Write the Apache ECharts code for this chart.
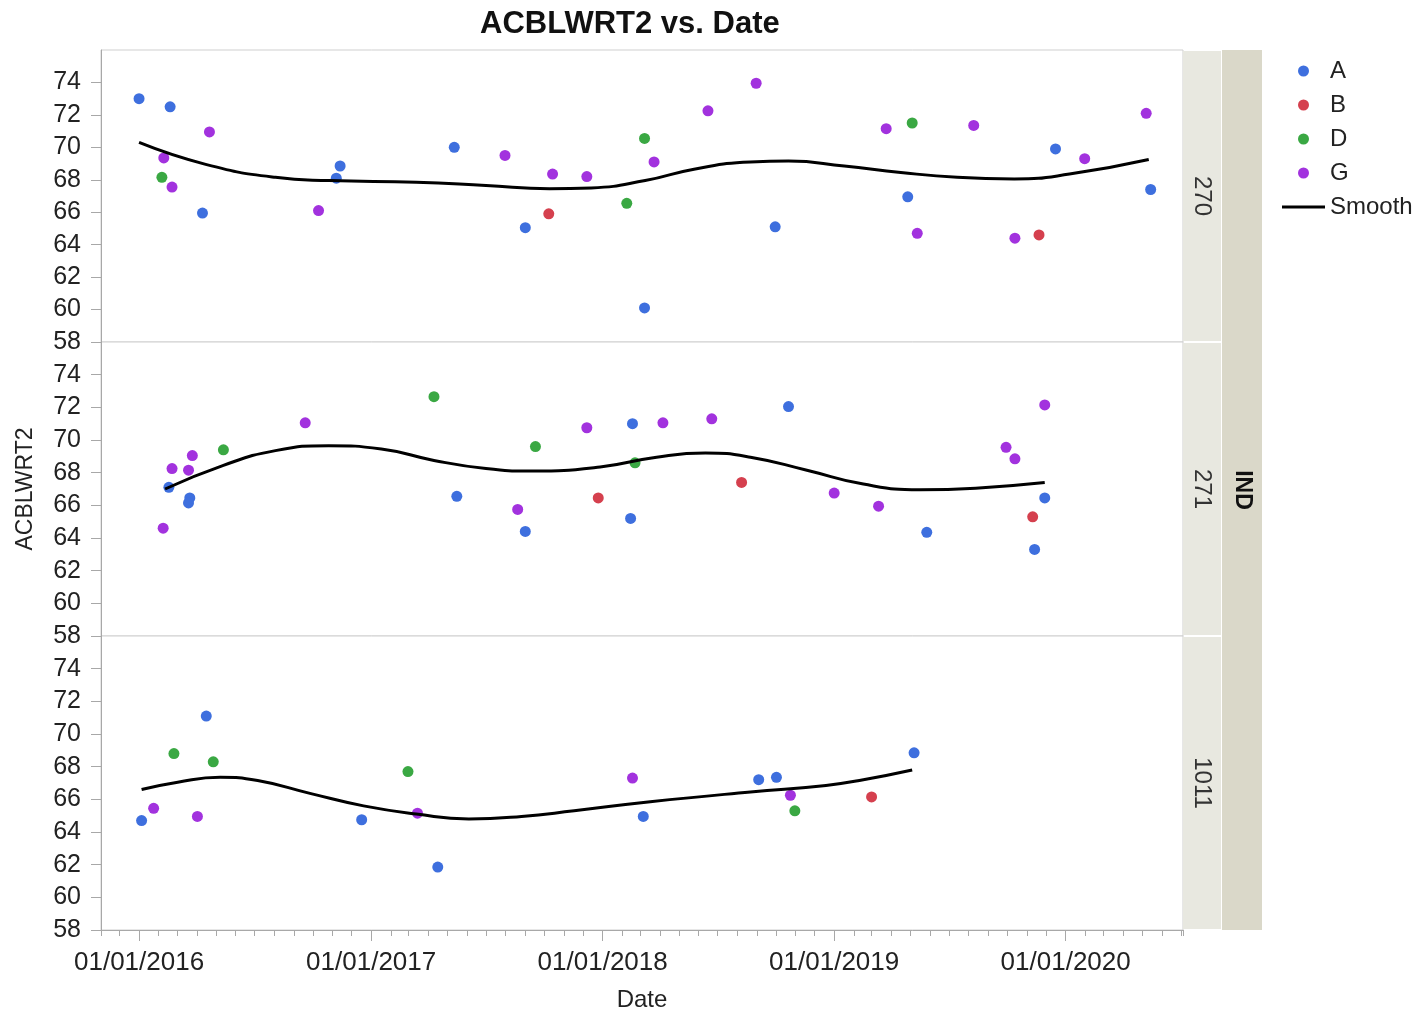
<!DOCTYPE html>
<html>
<head>
<meta charset="utf-8">
<title>ACBLWRT2 vs. Date</title>
<script src="https://cdn.jsdelivr.net/npm/echarts@6/dist/echarts.min.js"></script>
<style>
  html, body { margin: 0; padding: 0; background: #fff; }
  #chart { width: 1423px; height: 1012px; }
</style>
</head>
<body>
<div id="chart"></div>
<script>
// values, [date, ACBLWRT2]
const p270A = [["2016-01-01", 73.0], ["2016-02-19", 72.5], ["2016-04-10", 65.95], ["2016-11-07", 68.1], ["2016-11-13", 68.85],
  ["2017-05-12", 70.0], ["2017-09-01", 65.05], ["2018-03-08", 60.1], ["2018-09-30", 65.1], ["2019-04-27", 66.95],
  ["2019-12-16", 69.9], ["2020-05-14", 67.4]];
const p270B = [["2017-10-08", 65.9], ["2019-11-20", 64.6]];
const p270D = [["2016-02-06", 68.15], ["2018-02-08", 66.55], ["2018-03-08", 70.55], ["2019-05-04", 71.5]];
const p270G = [["2016-02-09", 69.35], ["2016-02-22", 67.55], ["2016-04-21", 70.95], ["2016-10-10", 66.1], ["2017-07-31", 69.5],
  ["2017-10-14", 68.35], ["2017-12-07", 68.2], ["2018-03-23", 69.1], ["2018-06-16", 72.25], ["2018-08-31", 73.95],
  ["2019-03-24", 71.15], ["2019-05-12", 64.7], ["2019-08-09", 71.35], ["2019-10-13", 64.4], ["2020-01-31", 69.3],
  ["2020-05-07", 72.1]];
const s270 = [["2016-01-01", 70.3], ["2016-04-15", 68.95], ["2016-08-03", 68.15], ["2016-10-26", 67.95], ["2017-03-13", 67.85],
  ["2017-07-01", 67.65], ["2017-10-09", 67.45], ["2017-12-14", 67.5], ["2018-03-09", 67.95], ["2018-05-25", 68.65],
  ["2018-08-22", 69.1], ["2018-10-21", 69.15], ["2019-01-17", 68.85], ["2019-04-16", 68.45], ["2019-07-14", 68.15],
  ["2019-10-12", 68.05], ["2020-01-07", 68.35], ["2020-05-11", 69.25]];

const p271A = [["2016-02-17", 67.1], ["2016-03-21", 66.45], ["2016-03-19", 66.15], ["2017-05-16", 66.55], ["2017-09-01", 64.4],
  ["2018-02-17", 71.0], ["2018-02-14", 65.2], ["2018-10-21", 72.05], ["2019-05-27", 64.35], ["2019-11-29", 66.45],
  ["2019-11-13", 63.3]];
const p271B = [["2017-12-25", 66.45], ["2018-08-08", 67.4], ["2019-11-10", 65.3]];
const p271D = [["2016-05-13", 69.4], ["2017-04-10", 72.65], ["2017-09-17", 69.6], ["2018-02-21", 68.6]];
const p271G = [["2016-02-08", 64.6], ["2016-02-22", 68.25], ["2016-03-25", 69.05], ["2016-03-19", 68.15], ["2016-09-19", 71.05],
  ["2017-08-20", 65.75], ["2017-12-07", 70.75], ["2018-04-06", 71.05], ["2018-06-22", 71.3], ["2019-01-01", 66.75],
  ["2019-03-12", 65.95], ["2019-09-29", 69.55], ["2019-10-13", 68.85], ["2019-11-29", 72.15]];
const s271 = [["2016-02-11", 67.0], ["2016-05-13", 68.45], ["2016-08-03", 69.35], ["2016-10-26", 69.65], ["2017-01-17", 69.45],
  ["2017-04-10", 68.75], ["2017-07-01", 68.25], ["2017-09-10", 68.1], ["2017-12-28", 68.35],
  ["2018-03-27", 68.95], ["2018-06-12", 69.2], ["2018-08-22", 68.95], ["2018-11-19", 68.15], ["2019-02-16", 67.3],
  ["2019-05-16", 66.95], ["2019-08-12", 67.05], ["2019-11-29", 67.4]];

const p1011A = [["2016-01-05", 64.7], ["2016-04-16", 71.1], ["2016-12-17", 64.75], ["2017-04-16", 61.85], ["2018-03-06", 64.95],
  ["2018-09-04", 67.2], ["2018-10-02", 67.35], ["2019-05-07", 68.85]];
const p1011B = [["2019-03-01", 66.15]];
const p1011D = [["2016-02-25", 68.8], ["2016-04-27", 68.3], ["2017-02-28", 67.7], ["2018-10-31", 65.3]];
const p1011G = [["2016-01-24", 65.45], ["2016-04-02", 64.95], ["2017-03-15", 65.15], ["2018-02-17", 67.3], ["2018-10-24", 66.25]];
const s1011 = [["2016-01-05", 66.6], ["2016-03-02", 67.05], ["2016-05-08", 67.35], ["2016-07-06", 67.15], ["2016-09-28", 66.35],
  ["2016-12-20", 65.6], ["2017-03-13", 65.1], ["2017-06-04", 64.8], ["2017-08-26", 64.95], ["2017-11-17", 65.3],
  ["2018-03-17", 65.85], ["2018-08-22", 66.45], ["2018-12-19", 66.85], ["2019-02-16", 67.2],
  ["2019-05-04", 67.8]];

const groups = ["A", "B", "D", "G"];
const panelLabels = ["270", "271", "1011"];
const yTicks = [58, 60, 62, 64, 66, 68, 70, 72, 74];

const panels = [
  { A: p270A, B: p270B, D: p270D, G: p270G, smooth: s270 },
  { A: p271A, B: p271B, D: p271D, G: p271G, smooth: s271 },
  { A: p1011A, B: p1011B, D: p1011D, G: p1011G, smooth: s1011 }
];

const groupColor = { A: "#3e6fde", B: "#d5404e", D: "#3aa843", G: "#a232de" };
const FONT = "Liberation Sans, Arial, sans-serif";

// layout
const LEFT = 101, RIGHT_X = 1183;
const panelTop = [50, 342, 636];
const panelH = [292, 294, 294];
const BOTTOM = 930;

const X_MIN = echarts.time.parse("2015-11-02").getTime();
const X_MAX = echarts.time.parse("2020-07-04").getTime();
const DAY = 86400000;

const grids = panels.map((_, i) => ({
  left: LEFT, width: RIGHT_X - LEFT, top: panelTop[i], height: panelH[i],
  outerBoundsMode: "none", containLabel: false,
  show: true, borderColor: "#cfcfcf", borderWidth: 1, backgroundColor: "#fff"
}));

const xAxes = [];
panels.forEach((_, i) => {
  const last = i === panels.length - 1;
  xAxes.push({
    type: "time", gridIndex: i, position: "bottom", min: X_MIN, max: X_MAX,
    minInterval: 365 * DAY, maxInterval: 366 * DAY,
    show: last,
    splitLine: { show: false },
    axisLine: { show: true, lineStyle: { color: "#a8a8a8", width: 1 } },
    axisTick: { show: true, length: 11, lineStyle: { color: "#a8a8a8" } },
    axisLabel: {
      show: true, color: "#222", fontFamily: FONT, fontSize: 26, margin: 20,
      showMinLabel: false, showMaxLabel: false,
      formatter: v => {
        const d = new Date(v);
        if (d.getMonth() !== 0 || d.getDate() !== 1) return "";
        return "01/01/" + d.getFullYear();
      }
    },
    name: last ? "Date" : "", nameLocation: "middle", nameGap: 58,
    nameTextStyle: { color: "#222", fontFamily: FONT, fontSize: 24 }
  });
});
// monthly minor ticks on the bottom axis
xAxes.push({
  type: "time", gridIndex: 2, position: "bottom", min: X_MIN, max: X_MAX,
  minInterval: 28 * DAY, maxInterval: 31 * DAY,
  splitLine: { show: false },
  axisLine: { show: false },
  axisTick: { show: true, length: 6, lineStyle: { color: "#a8a8a8" } },
  axisLabel: { show: false }
});

const yAxes = panels.map((_, i) => ({
  type: "value", gridIndex: i, min: 58, max: 76, interval: 2,
  splitLine: { show: false },
  axisLine: { show: true, lineStyle: { color: "#a8a8a8" } },
  axisTick: { show: true, length: 10, lineStyle: { color: "#a8a8a8" } },
  axisLabel: {
    color: "#222", fontFamily: FONT, fontSize: 25, margin: 20,
    showMaxLabel: false,
    formatter: v => (yTicks.includes(v) ? String(v) : "")
  },
  name: i === 1 ? "ACBLWRT2" : "", nameLocation: "middle", nameGap: 64, nameRotate: 90,
  nameTextStyle: { color: "#222", fontFamily: FONT, fontSize: 23 }
}));

const series = [];
panels.forEach((p, i) => {
  groups.forEach(g => {
    series.push({
      name: g, type: "scatter", xAxisIndex: i, yAxisIndex: i,
      data: p[g], symbol: "circle", symbolSize: 11,
      itemStyle: { color: groupColor[g], opacity: 1 }, z: 2
    });
  });
  series.push({
    name: "Smooth", type: "line", xAxisIndex: i, yAxisIndex: i,
    data: p.smooth, smooth: true, symbol: "none",
    lineStyle: { color: "#000", width: 3 }, itemStyle: { color: "#000" }, z: 3
  });
});

// panel strips on the right
const graphic = [];
panels.forEach((_, i) => {
  graphic.push({
    type: "rect", left: RIGHT_X, top: panelTop[i] + 1,
    shape: { width: 38, height: panelH[i] - 2 },
    style: { fill: "#e8e8e0" }
  });
  graphic.push({
    type: "text", x: RIGHT_X + 19, y: panelTop[i] + panelH[i] / 2, rotation: -Math.PI / 2,
    style: { text: panelLabels[i], fill: "#333", font: "24px " + FONT, align: "center", verticalAlign: "middle" }
  });
});
graphic.push({
  type: "rect", left: RIGHT_X + 39, top: panelTop[0],
  shape: { width: 40, height: BOTTOM - panelTop[0] },
  style: { fill: "#dad8c9" }
});
graphic.push({
  type: "text", x: RIGHT_X + 59, y: (panelTop[0] + BOTTOM) / 2, rotation: -Math.PI / 2,
  style: { text: "IND", fill: "#111", font: "bold 23px " + FONT, align: "center", verticalAlign: "middle" }
});

const chart = echarts.init(document.getElementById("chart"), null, { renderer: "canvas" });
chart.setOption({
  animation: false,
  backgroundColor: "#fff",
  textStyle: { fontFamily: FONT },
  title: {
    text: "ACBLWRT2 vs. Date", left: 475, top: 4,
    textStyle: { fontFamily: FONT, fontSize: 31, fontWeight: "bold", color: "#111" }
  },
  legend: {
    orient: "vertical", left: 1277, top: 54,
    itemWidth: 43, itemHeight: 11, itemGap: 10,
    textStyle: { fontFamily: FONT, fontSize: 24, color: "#222" },
    data: [
      { name: "A", icon: "circle" }, { name: "B", icon: "circle" },
      { name: "D", icon: "circle" }, { name: "G", icon: "circle" },
      { name: "Smooth", icon: "path://M0,0H100V7H0Z" }
    ]
  },
  grid: grids,
  xAxis: xAxes,
  yAxis: yAxes,
  series,
  graphic
});
</script>
</body>
</html>
